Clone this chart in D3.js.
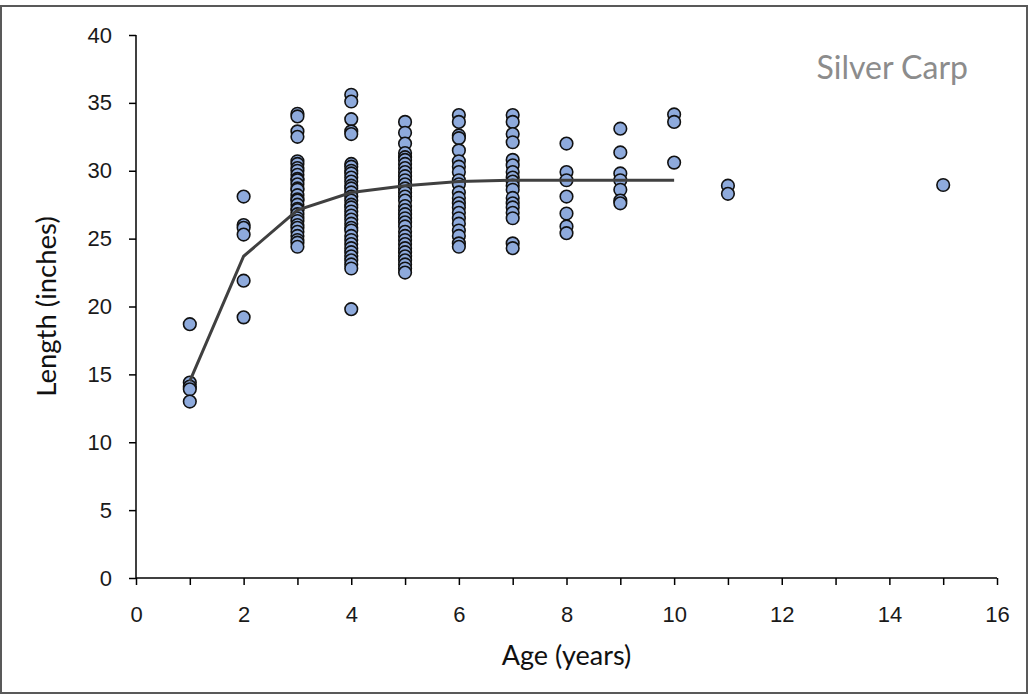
<!DOCTYPE html>
<html>
<head>
<meta charset="utf-8">
<script src="https://cdn.jsdelivr.net/npm/d3@7"></script>
<style>
  body { margin: 0; background: #fff; }
  svg { display: block; font-family: Lato, "Open Sans", sans-serif; }
  .axis path, .axis line { stroke: #000; stroke-width: 1.5; }
  .axis text { font-size: 22px; fill: #1a1a1a; }
</style>
</head>
<body>
<svg id="chart" width="1029" height="697"></svg>
<script>
// Observed lengths (inches) for each age (years).
const age1 = [18.7, 14.4, 14.1, 13.9, 13.0];
const age2 = [28.1, 26.0, 25.8, 25.3, 21.9, 19.2];
const age3 = [34.2, 34.0, 32.9, 32.5, 30.7, 30.5, 30.2, 30.0, 29.7, 29.4, 29.3, 29.0, 28.7, 28.6,
              28.2, 27.9, 27.8, 27.5, 27.2, 27.1, 26.8, 26.5, 26.3, 26.0, 25.8, 25.5, 25.2, 24.9, 24.7, 24.4];
const age4 = [35.6, 35.1, 33.8, 32.9, 32.7, 30.5, 30.3, 30.0, 29.8, 29.5, 29.2, 28.9, 28.7, 28.4,
              28.1, 27.8, 27.5, 27.3, 27.0, 26.7, 26.4, 26.1, 25.8, 25.6, 25.2, 24.9, 24.6, 24.3, 24.0,
              23.7, 23.4, 23.1, 22.8, 19.8];
const age5 = [33.6, 32.8, 32.0, 31.3, 31.0, 30.8, 30.5, 30.2, 29.9, 29.6, 29.3, 29.0, 28.7, 28.4,
              28.1, 27.8, 27.4, 27.1, 26.8, 26.5, 26.2, 25.9, 25.5, 25.2, 24.9, 24.6, 24.3, 24.0,
              23.7, 23.4, 23.1, 22.8, 22.5];
const age6 = [34.1, 33.6, 32.6, 32.4, 31.5, 30.7, 30.3, 29.9, 29.3, 29.0, 28.4, 28.0, 27.6, 27.3,
              26.9, 26.5, 26.1, 25.6, 25.2, 24.65, 24.4];
const age7 = [34.1, 33.6, 32.7, 32.1, 30.8, 30.4, 29.9, 29.5, 29.2, 28.9, 28.6, 28.0, 27.6, 27.3,
              26.9, 26.5, 24.65, 24.3];
const age8 = [32.0, 29.9, 29.3, 28.1, 26.85, 25.9, 25.4];
const age9 = [33.1, 31.35, 29.8, 29.3, 28.6, 27.8, 27.6];
const age10 = [34.15, 33.6, 30.6];
const age11 = [28.9, 28.3];
const age15 = [28.95];

const ages = [1, 2, 3, 4, 5, 6, 7, 8, 9, 10, 11, 15];
const lengths = [age1, age2, age3, age4, age5, age6, age7, age8, age9, age10, age11, age15];

// Mean length curve.
const trendAges = [1, 2, 3, 4, 5, 6, 7, 8, 9, 10];
const trendLengths = [14.5, 23.7, 27.1, 28.4, 28.9, 29.2, 29.3, 29.3, 29.3, 29.3];

const xTicks = [0, 2, 4, 6, 8, 10, 12, 14, 16];
const yTicks = [0, 5, 10, 15, 20, 25, 30, 35, 40];

const points = [];
ages.forEach((a, i) => lengths[i].forEach(v => points.push({age: a, len: v})));

const margin = {top: 35, right: 32, bottom: 119, left: 136},
      width = 1029 - margin.left - margin.right,
      height = 697 - margin.top - margin.bottom;

const svg = d3.select('#chart');

// Outer frame.
svg.append('rect')
    .attr('x', 1).attr('y', 6)
    .attr('width', 1026).attr('height', 687)
    .attr('fill', '#fff')
    .attr('stroke', '#595959')
    .attr('stroke-width', 2);

const g = svg.append('g')
    .attr('transform', `translate(${margin.left}, ${margin.top})`);

const x = d3.scaleLinear().domain([0, 16]).range([0, width]);
const y = d3.scaleLinear().domain([0, 40]).range([height, 0]);

g.append('g')
    .attr('class', 'axis')
    .attr('transform', `translate(0, ${height})`)
    .call(d3.axisBottom(x).tickValues(d3.range(0, 17)).tickSize(7).tickPadding(21)
        .tickFormat(d => xTicks.includes(d) ? d : ''))
    .call(a => a.select('.domain').attr('d', `M0,0H${width}`));

g.append('g')
    .attr('class', 'axis')
    .call(d3.axisLeft(y).tickValues(yTicks).tickSize(7).tickPadding(17))
    .call(a => a.select('.domain').attr('d', `M0,${height}V0`));

// Points.
g.append('g')
    .selectAll('circle')
    .data(points)
    .join('circle')
        .attr('cx', d => x(d.age))
        .attr('cy', d => y(d.len))
        .attr('r', 6.3)
        .attr('fill', '#8eaadc')
        .attr('stroke', '#111')
        .attr('stroke-width', 1.6);

// Trend line.
const line = d3.line()
    .x((d, i) => x(trendAges[i]))
    .y(d => y(d));

g.append('path')
    .datum(trendLengths)
    .attr('d', line)
    .attr('fill', 'none')
    .attr('stroke', '#404040')
    .attr('stroke-width', 3);

// Axis titles.
g.append('text')
    .attr('x', width / 2)
    .attr('y', height + 87)
    .attr('text-anchor', 'middle')
    .attr('font-size', 27)
    .attr('fill', '#111')
    .text('Age (years)');

g.append('text')
    .attr('transform', `translate(${-80}, ${height / 2}) rotate(-90)`)
    .attr('text-anchor', 'middle')
    .attr('font-size', 27.5)
    .attr('fill', '#111')
    .text('Length (inches)');

// Species label.
g.append('text')
    .attr('x', 832)
    .attr('y', 44)
    .attr('text-anchor', 'end')
    .attr('font-size', 32)
    .attr('fill', '#8c8c8c')
    .text('Silver Carp');
</script>
</body>
</html>
